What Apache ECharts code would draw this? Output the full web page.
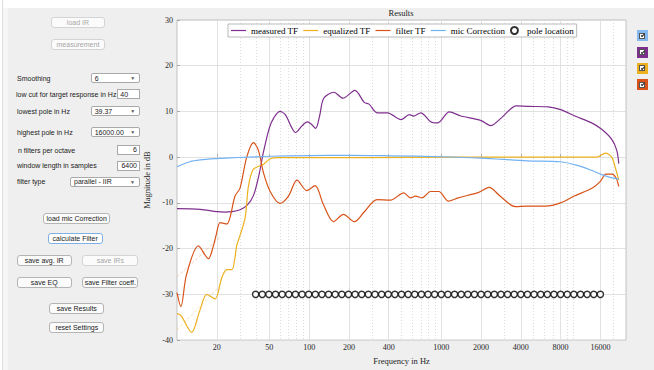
<!DOCTYPE html>
<html><head><meta charset="utf-8">
<script src="https://cdn.jsdelivr.net/npm/echarts@6/dist/echarts.min.js"></script>
<style>
html,body{margin:0;padding:0;width:654px;height:370px;overflow:hidden;background:#fff;}
#bg{position:absolute;left:8px;top:8px;width:646px;height:362px;background:#efefef;}
#strip{position:absolute;left:3px;top:8px;width:5px;height:362px;background:#f6f6f6;}
#vline{position:absolute;left:2px;top:0;width:1px;height:370px;background:#dedede;}
#chart{position:absolute;left:0;top:0;width:654px;height:370px;}
.ui{position:absolute;font-family:'Liberation Sans',Arial,sans-serif;font-size:7px;color:#1a1a1a;box-sizing:border-box;white-space:nowrap;line-height:1;}
.btn{background:#fbfbfb;border:1px solid #b4b4b4;border-radius:3px;display:flex;align-items:center;justify-content:center;}
.dis{color:#a6a6a6;border-color:#d4d4d4;}
.hl{border-color:#7fb0e6;background:#fff;}
.dd{background:#fff;border:1px solid #a9a9a9;border-radius:2px;display:flex;align-items:center;padding-left:3px;}
.dd .arr{position:absolute;right:4px;top:50%;transform:translateY(-50%);font-size:5px;color:#555;}
.inp{background:#fff;border:1px solid #a9a9a9;display:flex;align-items:center;padding:0 2px;}
.lbl{display:flex;align-items:center;height:10px;}
.cb{position:absolute;width:11px;height:11px;box-sizing:border-box;}
.cb .in{position:absolute;left:2.5px;top:2.5px;width:6px;height:6px;background:#fff;border:0.8px solid #555;box-sizing:border-box;}
.cb .ck{position:absolute;left:1.3px;top:0.6px;width:2.6px;height:1.4px;border-left:0.9px solid #222;border-bottom:0.9px solid #222;transform:rotate(-45deg);}
</style></head>
<body>
<div id="vline"></div><div id="bg"></div><div id="strip"></div>
<div id="chart"></div>
<div id="ui"></div>
<script>
// ---------------- data ----------------
const freqMeasured = [10, 15, 20, 23, 26, 30, 34, 38, 42, 45, 50, 54, 60, 66, 74, 79, 88, 97, 104, 112, 120, 129, 154, 180, 222, 261, 284, 329, 392, 495, 573, 620, 700, 836, 940, 1150, 1410, 2000, 2360, 2850, 3700, 4540, 6440, 8000, 10260, 13740, 16370, 19500, 21280, 22050];
const measuredTF = [-11.25, -11.4, -11.9, -12.0, -11.9, -11.5, -10.5, -8.3, -3.5, 1.0, 6.4, 8.6, 10.0, 9.3, 6.4, 5.4, 6.8, 7.7, 7.2, 6.3, 9.0, 12.9, 14.2, 12.9, 14.6, 12.0, 11.6, 9.7, 9.7, 8.2, 9.3, 9.0, 9.7, 7.7, 7.5, 9.9, 9.0, 8.0, 6.9, 8.6, 11.2, 11.1, 11.0, 10.4, 9.0, 7.5, 6.1, 3.9, 1.5, -1.4];

const freqEqualized = [10, 10.7, 12.9, 14.9, 16.8, 19.4, 21.8, 23.8, 26, 28.4, 30, 32.8, 34.7, 37.5, 41.3, 45, 50.7, 60, 100, 300, 1000, 3000, 10000, 15000, 17500, 19500, 21000, 22050];
const equalizedTF = [-34.2, -34.6, -38.3, -33.5, -30.0, -31.0, -26.4, -24.6, -24.6, -19.2, -17.1, -13.2, -6.4, -2.8, -2.0, -1.6, -0.35, -0.1, -0.1, -0.1, 0.0, 0.0, 0.0, 0.0, 0.9, 0.0, -2.8, -5.0];

const freqFilter = [10, 10.7, 11.8, 14.5, 17.3, 18.8, 19.8, 21.2, 23.8, 27.5, 30, 33.7, 37.9, 41.3, 45.2, 50.7, 60, 69.8, 80.9, 96, 111, 128, 153, 182, 220, 259, 327, 412, 520, 585, 639, 716, 830, 958, 1135, 1343, 1920, 2300, 2785, 3630, 4480, 6120, 7980, 10150, 13900, 16000, 17600, 19500, 21000, 22050];
const filterTF = [-29.6, -32.7, -25.7, -19.4, -22.2, -19.5, -17.0, -14.3, -14.6, -8.5, -6.75, 0.0, 3.2, 1.5, -3.5, -7.5, -10.1, -8.5, -5.0, -7.3, -6.2, -10.3, -14.1, -12.5, -14.1, -12.1, -9.3, -9.4, -7.8, -8.9, -8.5, -8.9, -7.5, -7.5, -9.6, -8.9, -7.7, -6.6, -8.5, -10.8, -10.7, -10.7, -10.0, -8.5, -6.75, -5.3, -3.7, -3.7, -4.5, -6.4];

const freqMic = [10, 12.5, 15, 20, 25, 34, 50, 100, 200, 400, 1000, 2000, 4480, 8000, 10700, 13500, 16000, 19000, 22050];
const micCorrection = [-2.1, -1.0, -0.6, -0.3, -0.15, 0.0, 0.2, 0.35, 0.4, 0.3, 0.1, -0.2, -0.8, -1.0, -1.8, -2.8, -3.7, -4.4, -4.8];

const freqRawLow = [10, 21];
const rawFilterLow = [-26.2, -17.6];
const rawEqualizedLow = [-37.8, -28.2];

const poleFreqs = [39.37, 44.19, 49.60, 55.68, 62.50, 70.15, 78.74, 88.39, 99.21, 111.36, 125.0, 140.31, 157.49, 176.78, 198.43, 222.72, 250.0, 280.62, 314.98, 353.55, 396.85, 445.45, 500.0, 561.23, 629.96, 707.11, 793.70, 890.90, 1000.0, 1122.46, 1259.92, 1414.21, 1587.40, 1781.80, 2000.0, 2244.92, 2519.84, 2828.43, 3174.80, 3563.59, 4000.0, 4489.85, 5039.68, 5656.85, 6349.60, 7127.19, 8000.0, 8979.70, 10079.37, 11313.71, 12699.21, 14254.38, 16000.0];
const poleLevel = -30;

const xTickLabels = [20, 50, 100, 200, 400, 1000, 2000, 4000, 8000, 16000];
const xMinorGrid = [30, 40, 60, 70, 80, 90, 300, 500, 600, 700, 800, 900, 3000, 5000, 6000, 7000, 9000, 10000, 20000];
const xRange = [10, 25000];
const yRange = [-40, 30];
const yStep = 10;
const legendNames = ['measured TF', 'equalized TF', 'filter TF', 'mic Correction', 'pole location'];

// ---------------- chart ----------------
const L = v => Math.log10(v);
const pairs = (fs, vs) => fs.map((f, i) => [L(f), vs[i]]);
const serif = "'Liberation Serif','DejaVu Serif',serif";
const COLORS = {purple:'#7E2F8E', yellow:'#EDB120', orange:'#D95319', blue:'#72b2f2'};
const LINE_ICON = 'path://M0,0L15,0L15,1.2L0,1.2Z';

const chart = echarts.init(document.getElementById('chart'), null, {renderer:'svg'});
const lineS = (name, fs, vs, color) => ({
  name, type:'line', data:pairs(fs, vs), symbol:'none', showSymbol:false, smooth:0.3,
  lineStyle:{color, width:1.2}, itemStyle:{color}, xAxisIndex:0, silent:true
});
const rawS = (fs, vs, color) => ({
  type:'line', data:pairs(fs, vs), symbol:'none', showSymbol:false,
  lineStyle:{color, width:0.8, type:[3,2]}, xAxisIndex:0, silent:true, z:1
});
chart.setOption({
  animation:false,
  grid:{left:177, top:20, width:449, height:327, show:true, backgroundColor:'#fff', borderColor:'#b4b4b4', borderWidth:0.8},
  graphic:[{type:'text', x:401, y:13, style:{text:'Results', align:'center', verticalAlign:'middle', font:"8.5px 'Liberation Serif'", fill:'#1a1a1a'}}],
  legend:{
    data:legendNames.map((n, i) => i < 4 ? {name:n, icon:LINE_ICON} : {name:n}),
    left:228, top:24, orient:'horizontal', itemWidth:15, itemHeight:7, itemGap:5,
    symbolKeepAspect:true,
    padding:[2,3], backgroundColor:'#fff', borderColor:'#a8a8a8', borderWidth:0.8,
    textStyle:{fontFamily:serif, fontSize:9, color:'#000', lineHeight:9}, selectedMode:false
  },
  xAxis:[{
    type:'value', min:L(xRange[0]), max:L(xRange[1]), position:'bottom',
    axisLine:{show:false},
    axisTick:{show:true, inside:true, length:3, customValues:xTickLabels.map(L), lineStyle:{color:'#9a9a9a', width:0.8}},
    axisLabel:{customValues:xTickLabels.map(L), formatter:v => String(Math.round(Math.pow(10, v))), fontFamily:serif, fontSize:8, color:'#262626', margin:3},
    splitLine:{show:true, lineStyle:{color:'#dadada', width:0.8}},
    name:'Frequency in Hz', nameLocation:'middle', nameGap:13, nameTextStyle:{fontFamily:serif, fontSize:8.5, color:'#262626'}
  },{
    type:'value', min:L(xRange[0]), max:L(xRange[1]), position:'bottom',
    axisLine:{show:false}, axisTick:{show:false, customValues:xMinorGrid.map(L)},
    axisLabel:{show:false, customValues:xMinorGrid.map(L)},
    splitLine:{show:true, lineStyle:{color:'#d2d2d2', width:0.8, type:[1,2]}}
  }],
  yAxis:{
    type:'value', min:yRange[0], max:yRange[1], interval:yStep,
    axisLine:{show:false},
    axisTick:{show:true, inside:true, length:3, lineStyle:{color:'#9a9a9a', width:0.8}},
    axisLabel:{fontFamily:serif, fontSize:8, color:'#262626', margin:4},
    splitLine:{show:true, lineStyle:{color:'#dadada', width:0.8}},
    name:'Magnitude in dB', nameLocation:'middle', nameGap:17, nameTextStyle:{fontFamily:serif, fontSize:8.5, color:'#262626'}
  },
  series:[
    rawS(freqRawLow, rawFilterLow, '#f1c3ad'),
    rawS(freqRawLow, rawEqualizedLow, '#f4dba0'),
    lineS('measured TF', freqMeasured, measuredTF, COLORS.purple),
    lineS('equalized TF', freqEqualized, equalizedTF, COLORS.yellow),
    lineS('filter TF', freqFilter, filterTF, COLORS.orange),
    lineS('mic Correction', freqMic, micCorrection, COLORS.blue),
    {name:'pole location', type:'scatter', data:poleFreqs.map(f => [L(f), poleLevel]), symbol:'circle', symbolSize:6.2,
     itemStyle:{color:'#fff', borderColor:'#000', borderWidth:1.4}, xAxisIndex:0, silent:true, z:5}
  ]
});

// ---------------- UI panel ----------------
const ui = document.getElementById('ui');
function el(cls, x, y, w, h, html){
  const d = document.createElement('div');
  d.className = 'ui ' + cls;
  d.style.left = x + 'px'; d.style.top = y + 'px';
  if (w != null) d.style.width = w + 'px';
  if (h != null) d.style.height = h + 'px';
  d.innerHTML = html;
  ui.appendChild(d);
  return d;
}
el('btn dis', 50.7, 17, 54.5, 11, 'load IR');
el('btn dis', 50.7, 39, 54.5, 11, 'measurement');
el('lbl', 17, 73, null, 10, 'Smoothing');
el('dd', 90.7, 73, 49.5, 10.3, '6<span class="arr">&#9660;</span>');
el('lbl', 16, 89, null, 10, 'low cut for target response in Hz');
el('inp', 117.3, 89.3, 22.7, 10, '40');
el('lbl', 17, 106.5, null, 10, 'lowest pole in Hz');
el('dd', 90.7, 106, 49.5, 10, '39.37<span class="arr">&#9660;</span>');
el('lbl', 17, 127, null, 10, 'highest pole in Hz');
el('dd', 90.7, 127.3, 49.5, 10, '16000.00<span class="arr">&#9660;</span>');
el('lbl', 18, 145, null, 10, 'n filters per octave');
const i1 = el('inp', 117.3, 145, 22.7, 9.5, '6'); i1.style.justifyContent = 'flex-end';
el('lbl', 17, 160.7, null, 10, 'window length in samples');
const i2 = el('inp', 117.3, 160.7, 22.7, 10, '6400'); i2.style.justifyContent = 'flex-end';
el('lbl', 17, 176.7, null, 10, 'filter type');
el('dd', 70, 176.7, 70, 10, 'parallel - IIR<span class="arr">&#9660;</span>');
el('btn', 43.3, 212.7, 66.7, 11, 'load mic Correction');
el('btn hl', 47.7, 233.3, 55, 11, 'calculate Filter');
el('btn', 16.7, 255, 55, 11, 'save avg. IR');
el('btn dis', 82.3, 255, 56, 11, 'save IRs');
el('btn', 16.7, 276.7, 55, 11, 'save EQ');
el('btn', 82.3, 276.7, 56, 11, 'save Filter coeff.');
el('btn', 49.3, 302.7, 55, 11.3, 'save Results');
el('btn', 49.3, 321.7, 55, 11, 'reset Settings');

// checkboxes
const cbColors = ['#86b9ef', '#7E2F8E', '#EDB120', '#D95319'];
const cbTops = [30, 46.5, 62.5, 79];
cbColors.forEach((c, i) => {
  const d = document.createElement('div');
  d.className = 'cb';
  d.style.left = '636.5px'; d.style.top = cbTops[i] + 'px'; d.style.background = c;
  d.innerHTML = '<div class="in"><div class="ck"></div></div>';
  ui.appendChild(d);
});
</script>
</body></html>
